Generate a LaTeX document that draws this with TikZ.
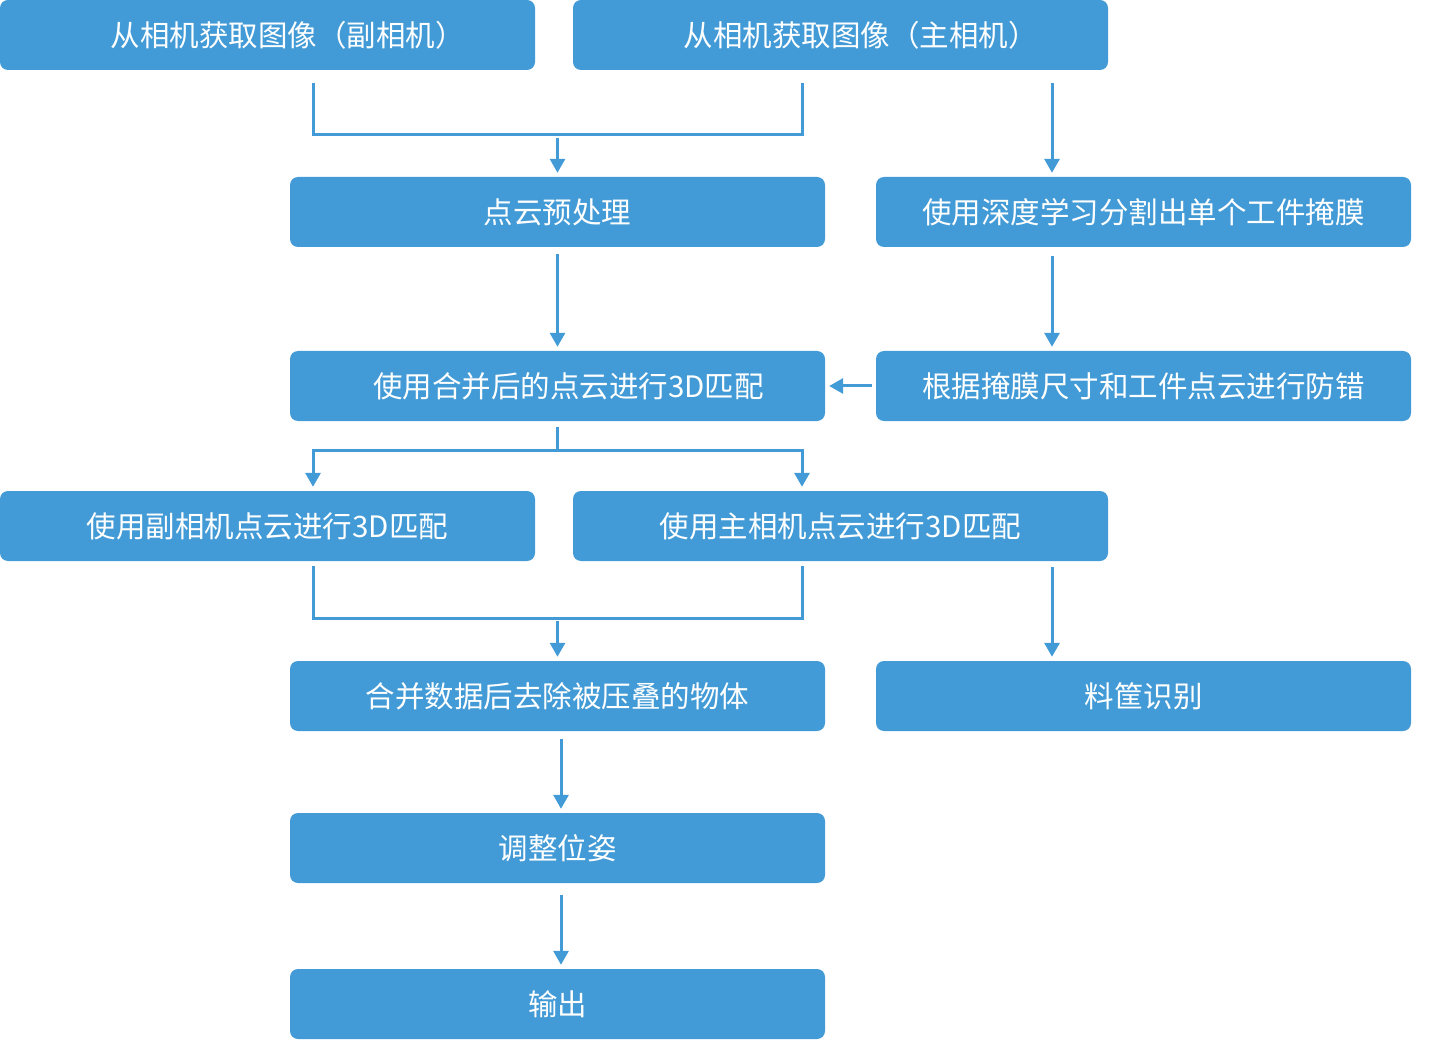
\documentclass[tikz,border=0pt]{standalone}
\usepackage{fontspec}
\newfontfamily\cjk{Noto Sans CJK SC}
\usetikzlibrary{arrows.meta,calc}
\definecolor{boxblue}{HTML}{429BD6}
\tikzset{
  box/.style={fill=boxblue, draw=none, rounded corners=8pt, minimum width=535pt, minimum height=70pt, inner sep=0pt, text=white, font=\cjk\fontsize{29.5}{35}\selectfont},
  conn/.style={draw=boxblue, line width=3pt},
  arr/.style={conn, -{Triangle[width=15pt,length=14pt]}, shorten >=4pt},
}
\begin{document}
\begin{tikzpicture}[x=1pt,y=-1pt]
\useasboundingbox (0,0) rectangle (1432,1040);
\node[box] (b1) at (267.5,35) {\hspace*{40pt}从相机获取图像（副相机）};
\node[box] (b2) at (840.5,35) {\hspace*{40pt}从相机获取图像（主相机）};
\node[box] (b3) at (557.5,212) {点云预处理};
\node[box] (b4) at (1143.5,212) {使用深度学习分割出单个工件掩膜};
\node[box] (b5) at (557.5,386) {\hspace*{22pt}使用合并后的点云进行3D匹配};
\node[box] (b6) at (1143.5,386) {根据掩膜尺寸和工件点云进行防错};
\node[box] (b7) at (267.5,526) {使用副相机点云进行3D匹配};
\node[box] (b8) at (840.5,526) {使用主相机点云进行3D匹配};
\node[box] (b9) at (557.5,696) {合并数据后去除被压叠的物体};
\node[box] (b10) at (1143.5,696) {料筐识别};
\node[box] (b11) at (557.5,848) {调整位姿};
\node[box] (b12) at (557.5,1004) {输出};

% merge 1
\coordinate (m1) at (557.5,135);
\draw[conn] ([xshift=45.5pt,yshift=-13pt]b1.south) |- (m1) -| ([xshift=-38.5pt,yshift=-13pt]b2.south);
\draw[arr] ([yshift=-3pt]m1) -- (b3.north);
\draw[arr] ([xshift=211.5pt,yshift=-13pt]b2.south) -- ([xshift=-91.5pt]b4.north);
\draw[arr] ([yshift=-7pt]b3.south) -- (b5.north);
\draw[arr] ([xshift=-91.5pt,yshift=-9pt]b4.south) -- ([xshift=-91.5pt]b6.north);
\draw[arr] ([xshift=-4pt]b6.west) -- (b5.east);
% fork
\coordinate (f1) at (557.5,450);
\draw[conn] ([yshift=-6pt]b5.south) -- (f1);
\draw[arr] (f1) -| ([xshift=45.5pt]b7.north);
\draw[arr] (f1) -| ([xshift=-38.5pt]b8.north);
% merge 2
\coordinate (m2) at (557.5,618);
\draw[conn] ([xshift=45.5pt,yshift=-5pt]b7.south) |- (m2) -| ([xshift=-38.5pt,yshift=-5pt]b8.south);
\draw[arr] ([yshift=-3pt]m2) -- (b9.north);
\draw[arr] ([xshift=211.5pt,yshift=-6pt]b8.south) -- ([xshift=-91.5pt]b10.north);
\draw[arr] ([xshift=3.5pt,yshift=-8pt]b9.south) -- ([xshift=3.5pt]b11.north);
\draw[arr] ([xshift=3.5pt,yshift=-12pt]b11.south) -- ([xshift=3.5pt]b12.north);
\end{tikzpicture}
\end{document}
